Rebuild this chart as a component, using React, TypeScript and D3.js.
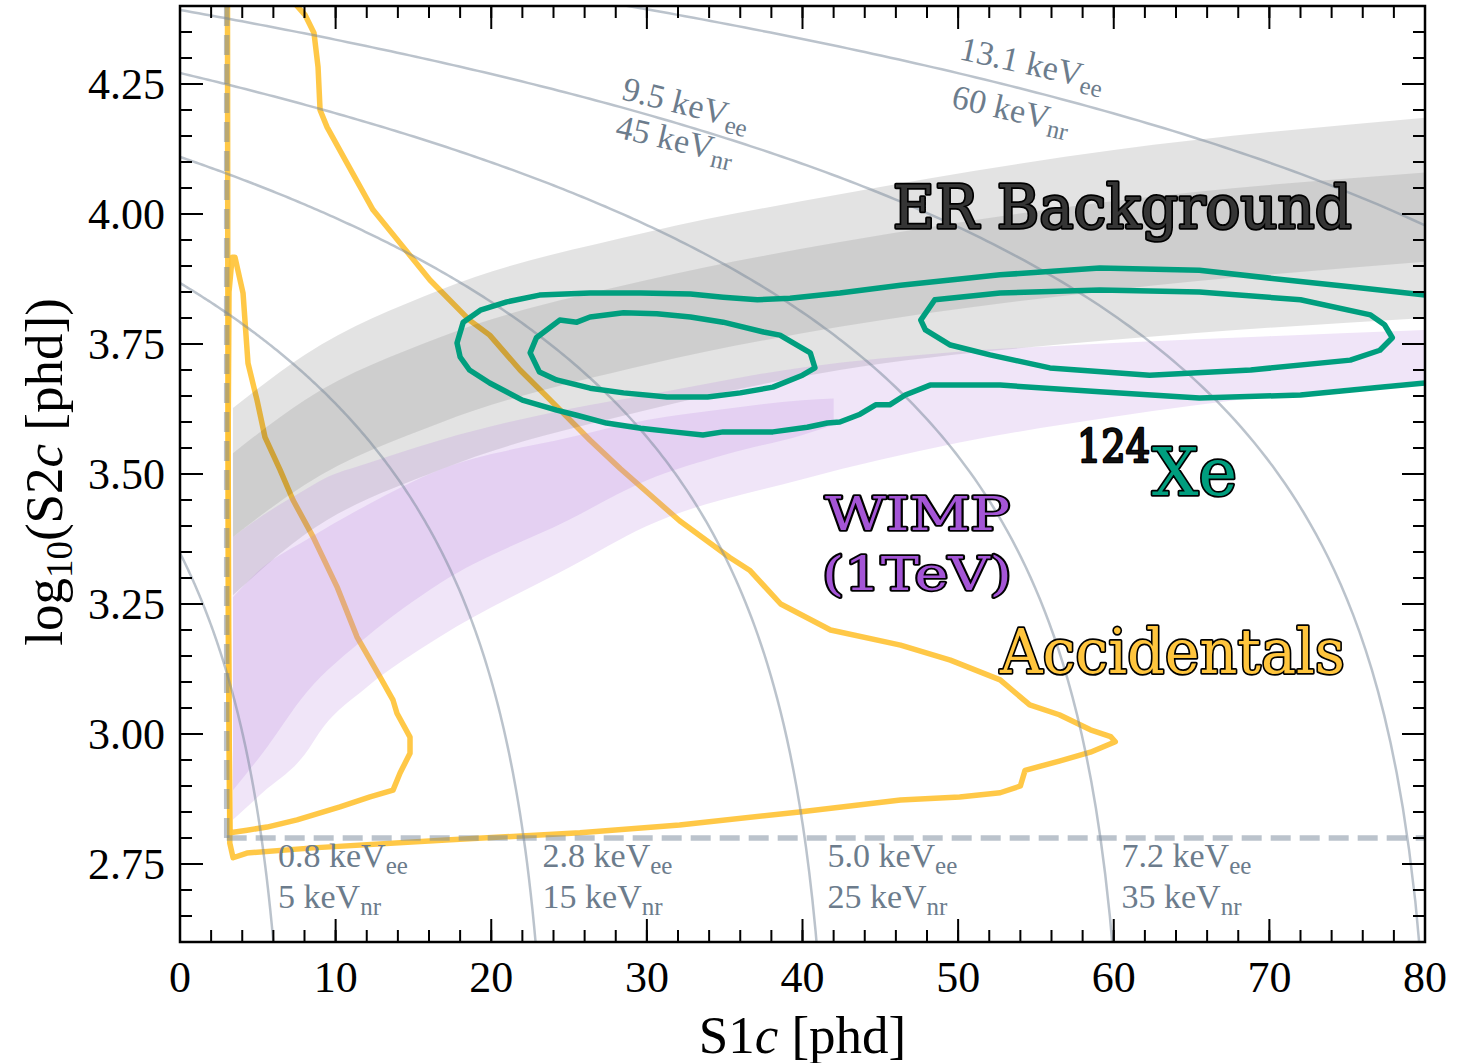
import React from "react";
import * as d3 from "d3";

// ---------- axis ticks ----------
const xTicks = [0, 10, 20, 30, 40, 50, 60, 70, 80];
const yTicks = [2.75, 3.0, 3.25, 3.5, 3.75, 4.0, 4.25];
const yTickLabels = ["2.75", "3.00", "3.25", "3.50", "3.75", "4.00", "4.25"];

// ---------- energy contours: S2 = intercept - slope*S1 ----------
const energyEE = ["0.8", "2.8", "5.0", "7.2", "9.5", "13.1"];
const energyNR = ["5", "15", "25", "35", "45", "60"];
const energyIntercept = [2228, 7367, 12874, 18670, 24687, 33906];
const energySlope = 305;
// label anchors (S1, log10 S2, rotation)
const bottomLabelS1 = [6.3, 23.3, 41.6, 60.5];
const topLabelEE = [[28.3, 4.221, 14], [50.0, 4.298, 12.5]];
const topLabelNR = [[27.9, 4.148, 13], [49.5, 4.206, 13]];

// ---------- ER band ----------
const erS1 = [3.4, 8, 16.7, 30, 42.4, 60, 80];
const erOuterTop = [3.627, 3.729, 3.854, 3.965, 4.038, 4.123, 4.185];
const erInnerTop = [3.54, 3.642, 3.763, 3.873, 3.946, 4.025, 4.08];
const erInnerBottom = [3.379, 3.479, 3.598, 3.71, 3.783, 3.854, 3.908];
const erOuterBottom = [3.267, 3.383, 3.508, 3.623, 3.7, 3.758, 3.8];

// ---------- WIMP band ----------
const wimpOuterS1 = [3.4, 5.3, 8, 9.2, 12, 16.7, 25, 30, 40, 50, 60, 70, 80];
const wimpOuterTop = [3.379, 3.42, 3.469, 3.49, 3.52, 3.565, 3.625, 3.652, 3.705, 3.735, 3.752, 3.765, 3.777];
const wimpOuterBottom = [2.835, 2.887, 2.96, 3.013, 3.09, 3.187, 3.32, 3.4, 3.49, 3.56, 3.61, 3.65, 3.68];
const wimpInnerS1 = [3.4, 5.3, 8.1, 12, 16.7, 25, 30, 35, 40, 42];
const wimpInnerTop = [3.263, 3.32, 3.373, 3.44, 3.508, 3.57, 3.604, 3.625, 3.642, 3.645];
const wimpInnerBottom = [2.892, 2.963, 3.079, 3.187, 3.29, 3.412, 3.488, 3.537, 3.575, 3.594];

// ---------- Accidentals contours ----------
const accOuter: [number, number][] = [
  [3.05, 4.45], [3.08, 3.642], [3.15, 3.065], [3.2, 2.79], [3.41, 2.762], [4.3, 2.771],
  [8.55, 2.781], [17.1, 2.796], [25.7, 2.81], [32.1, 2.825], [39.8, 2.85], [46.3, 2.873],
  [50.1, 2.879], [52.7, 2.887], [54.0, 2.9], [54.3, 2.93], [56.5, 2.948], [58.5, 2.965],
  [60.1, 2.985], [59.8, 2.995], [58.5, 3.008], [56.5, 3.037], [54.6, 3.056], [52.7, 3.104],
  [49.5, 3.142], [46.3, 3.171], [41.8, 3.2], [38.6, 3.25], [36.6, 3.315], [35.3, 3.34],
  [32.1, 3.41], [30.2, 3.46], [28.3, 3.51], [26.35, 3.565], [23.8, 3.642], [21.85, 3.7],
  [19.9, 3.767], [18.6, 3.796], [16.06, 3.873], [14.14, 3.944], [12.4, 4.008], [10.73, 4.098],
  [9.45, 4.167], [9.0, 4.2], [8.87, 4.283], [8.61, 4.348], [8.03, 4.383], [7.52, 4.4], [7.2, 4.45],
];
const accInner: [number, number][] = [
  [3.21, 2.81], [3.1, 3.2], [3.1, 3.6], [3.15, 3.85], [3.35, 3.917], [3.53, 3.917],
  [4.05, 3.848], [4.37, 3.713], [4.95, 3.642], [5.46, 3.571], [6.43, 3.508], [7.26, 3.45],
  [8.55, 3.379], [10.09, 3.283], [11.37, 3.187], [12.85, 3.11], [13.69, 3.065], [13.94, 3.04],
  [14.78, 2.994], [14.78, 2.963], [14.14, 2.925], [13.69, 2.892], [12.21, 2.879], [10.28, 2.86],
  [7.52, 2.835], [5.59, 2.821], [4.31, 2.815], [3.21, 2.81],
];

// ---------- 124Xe contours ----------
const xeOuter: [number, number][] = [
  [80.0, 3.844], [75.2, 3.86], [72.0, 3.87], [65.5, 3.892], [59.1, 3.896], [52.7, 3.883],
  [49.5, 3.873], [46.3, 3.863], [42.4, 3.848], [39.2, 3.838], [37.1, 3.835], [34.9, 3.84],
  [32.8, 3.846], [29.6, 3.848], [26.35, 3.848], [23.1, 3.844], [21.0, 3.831], [19.3, 3.815],
  [18.2, 3.792], [17.8, 3.752], [18.0, 3.725], [18.6, 3.7], [19.9, 3.675], [22.0, 3.642],
  [24.2, 3.623], [25.5, 3.613], [27.4, 3.598], [29.6, 3.588], [31.7, 3.581], [33.6, 3.575],
  [34.9, 3.581], [38.1, 3.581], [40.3, 3.59], [41.6, 3.598], [42.4, 3.6], [43.7, 3.615],
  [44.7, 3.633], [45.6, 3.633], [46.6, 3.652], [48.2, 3.671], [52.7, 3.671], [59.1, 3.658],
  [65.5, 3.646], [72.0, 3.652], [77.1, 3.667], [80.0, 3.675],
];
const xeInnerLeft: [number, number][] = [
  [22.5, 3.733], [22.9, 3.762], [24.4, 3.796], [25.5, 3.792], [26.35, 3.802], [28.5, 3.81],
  [30.65, 3.808], [32.8, 3.802], [34.9, 3.792], [37.5, 3.773], [38.55, 3.767], [39.4, 3.752],
  [40.5, 3.733], [40.8, 3.704], [40.0, 3.69], [38.1, 3.667], [36.0, 3.656], [33.9, 3.648],
  [31.3, 3.648], [28.5, 3.656], [26.35, 3.665], [24.2, 3.681], [23.1, 3.696],
];
const xeInnerRight: [number, number][] = [
  [47.6, 3.796], [48.5, 3.835], [52.7, 3.848], [59.1, 3.854], [65.5, 3.85], [72.0, 3.835],
  [76.5, 3.806], [77.4, 3.787], [77.9, 3.762], [77.1, 3.738], [75.2, 3.719], [68.8, 3.7],
  [62.3, 3.69], [55.9, 3.704], [52.05, 3.729], [49.5, 3.748], [47.9, 3.777],
];

// ---------- thresholds ----------
const s1Threshold = 3;
const s2Threshold = 2.8;

const W = 1470;
const H = 1063;
const L = 180, R = 1425, T = 6, B = 942;

const serif = "'Liberation Serif', 'Times New Roman', serif";
const labelFont = "'DejaVu Serif', serif";

export default function App() {
  const x = d3.scaleLinear().domain([0, 80]).range([L, R]);
  const y = d3.scaleLinear().domain([2.6, 4.4]).range([B, T]);

  const area = (s1: number[], lo: number[], hi: number[]) =>
    d3
      .area<number>()
      .x((_, i) => x(s1[i]))
      .y0((_, i) => y(lo[i]))
      .y1((_, i) => y(hi[i]))
      .curve(d3.curveMonotoneX)(s1) as string;

  const line = d3
    .line<[number, number]>()
    .x((d) => x(d[0]))
    .y((d) => y(d[1]));
  const closed = d3
    .line<[number, number]>()
    .x((d) => x(d[0]))
    .y((d) => y(d[1]))
    .curve(d3.curveLinearClosed);

  const energyPaths = energyIntercept.map((A) => {
    const s1max = (A - Math.pow(10, 2.55)) / energySlope;
    const pts: [number, number][] = d3.range(0, 201).map((i) => {
      const s = (s1max * i) / 200;
      return [s, Math.log10(A - energySlope * s)];
    });
    return line(pts) as string;
  });

  const xMinor = d3.range(0, 80.001, 2);
  const yMinor = d3.range(2.6, 4.4001, 0.05);

  const slate = "#6c7c8c";
  const outline = { paintOrder: "stroke" as const };
  const lfs = 34;
  const sfs = 25;

  return (
    <svg
      width={W}
      height={H}
      style={{ position: "absolute", left: 0, top: 0, background: "#fff" }}
    >
      <defs>
        <clipPath id="plotClip">
          <rect x={L} y={T} width={R - L} height={B - T} />
        </clipPath>
      </defs>
      <rect x={0} y={0} width={W} height={H} fill="#fff" />

      <g clipPath="url(#plotClip)">
        {/* Accidentals */}
        <path d={line(accOuter) as string} fill="none" stroke="#ffc233" strokeOpacity={0.9} strokeWidth={5.5} strokeLinejoin="round" />
        <path d={closed(accInner) as string} fill="none" stroke="#ffc233" strokeOpacity={0.9} strokeWidth={5.5} strokeLinejoin="round" />

        {/* ER band */}
        <path d={area(erS1, erOuterBottom, erOuterTop)} fill="#000" fillOpacity={0.11} />
        <path d={area(erS1, erInnerBottom, erInnerTop)} fill="#000" fillOpacity={0.09} />

        {/* WIMP band */}
        <path d={area(wimpOuterS1, wimpOuterBottom, wimpOuterTop)} fill="#b57edc" fillOpacity={0.2} />
        <path d={area(wimpInnerS1, wimpInnerBottom, wimpInnerTop)} fill="#b57edc" fillOpacity={0.2} />

        {/* energy contours */}
        {energyPaths.map((d, i) => (
          <path key={i} d={d} fill="none" stroke="#778899" strokeOpacity={0.5} strokeWidth={2.5} />
        ))}

        {/* thresholds */}
        <line x1={x(s1Threshold)} x2={x(s1Threshold)} y1={y(s2Threshold)} y2={y(4.4)} stroke="#778899" strokeOpacity={0.5} strokeWidth={5.5} strokeDasharray="20,9" />
        <line x1={x(s1Threshold)} x2={x(80)} y1={y(s2Threshold)} y2={y(s2Threshold)} stroke="#778899" strokeOpacity={0.5} strokeWidth={5.5} strokeDasharray="20,9" />

        {/* 124Xe */}
        <path d={line(xeOuter) as string} fill="none" stroke="#009e7e" strokeWidth={5.5} strokeLinejoin="round" />
        <path d={closed(xeInnerLeft) as string} fill="none" stroke="#009e7e" strokeWidth={5.5} strokeLinejoin="round" />
        <path d={closed(xeInnerRight) as string} fill="none" stroke="#009e7e" strokeWidth={5.5} strokeLinejoin="round" />
      </g>

      {/* energy labels bottom */}
      {bottomLabelS1.map((s, i) => (
        <g key={i} fontFamily={serif} fill={slate} fontSize={lfs}>
          <text x={x(s)} y={y(2.744)}>
            {energyEE[i]} keV<tspan fontSize={sfs} dy={7}>ee</tspan>
          </text>
          <text x={x(s)} y={y(2.665)}>
            {energyNR[i]} keV<tspan fontSize={sfs} dy={7}>nr</tspan>
          </text>
        </g>
      ))}
      {topLabelEE.map((p, j) => {
        const i = 4 + j;
        const q = topLabelNR[j];
        return (
          <g key={"t" + j} fontFamily={serif} fill={slate} fontSize={lfs}>
            <text x={x(p[0])} y={y(p[1])} transform={`rotate(${p[2]}, ${x(p[0])}, ${y(p[1])})`}>
              {energyEE[i]} keV<tspan fontSize={sfs} dy={7}>ee</tspan>
            </text>
            <text x={x(q[0])} y={y(q[1])} transform={`rotate(${q[2]}, ${x(q[0])}, ${y(q[1])})`}>
              {energyNR[i]} keV<tspan fontSize={sfs} dy={7}>nr</tspan>
            </text>
          </g>
        );
      })}

      {/* category labels */}
      <text x={x(45.8)} y={y(3.973)} fontFamily={labelFont} fontSize={60} fill="#353535" stroke="#000" strokeWidth={3.5} strokeLinejoin="round" style={outline} textLength={459} lengthAdjust="spacingAndGlyphs">
        ER Background
      </text>
      <text x={x(41.45)} y={y(3.392)} fontFamily={labelFont} fontSize={46} fill="#a455d6" stroke="#000" strokeWidth={3.5} strokeLinejoin="round" style={outline} textLength={185} lengthAdjust="spacingAndGlyphs">
        WIMP
      </text>
      <text x={x(41.25)} y={y(3.277)} fontFamily={labelFont} fontSize={46} fill="#a455d6" stroke="#000" strokeWidth={3.5} strokeLinejoin="round" style={outline} textLength={190} lengthAdjust="spacingAndGlyphs">
        (1TeV)
      </text>
      <text x={x(57.64)} y={y(3.523)} fontFamily={labelFont} fontSize={44} fill="#111" stroke="#000" strokeWidth={2.5} strokeLinejoin="round" style={outline} textLength={73} lengthAdjust="spacingAndGlyphs">
        124
      </text>
      <text x={x(62.46)} y={y(3.46)} fontFamily={labelFont} fontSize={66} fill="#009e7e" stroke="#000" strokeWidth={3.5} strokeLinejoin="round" style={outline} textLength={85} lengthAdjust="spacingAndGlyphs">
        Xe
      </text>
      <text x={x(52.69)} y={y(3.117)} fontFamily={labelFont} fontSize={62} fill="#ffc53d" stroke="#000" strokeWidth={3.5} strokeLinejoin="round" style={outline} textLength={345} lengthAdjust="spacingAndGlyphs">
        Accidentals
      </text>

      {/* ticks */}
      <g stroke="#000" strokeWidth={2}>
        {xMinor.map((v, i) => (
          <g key={"xm" + i}>
            <line x1={x(v)} x2={x(v)} y1={B} y2={B - 12} />
            <line x1={x(v)} x2={x(v)} y1={T} y2={T + 12} />
          </g>
        ))}
        {xTicks.map((v, i) => (
          <g key={"xM" + i}>
            <line x1={x(v)} x2={x(v)} y1={B} y2={B - 23} />
            <line x1={x(v)} x2={x(v)} y1={T} y2={T + 23} />
          </g>
        ))}
        {yMinor.map((v, i) => (
          <g key={"ym" + i}>
            <line x1={L} x2={L + 12} y1={y(v)} y2={y(v)} />
            <line x1={R} x2={R - 12} y1={y(v)} y2={y(v)} />
          </g>
        ))}
        {yTicks.map((v, i) => (
          <g key={"yM" + i}>
            <line x1={L} x2={L + 23} y1={y(v)} y2={y(v)} />
            <line x1={R} x2={R - 23} y1={y(v)} y2={y(v)} />
          </g>
        ))}
      </g>
      <rect x={L} y={T} width={R - L} height={B - T} fill="none" stroke="#000" strokeWidth={2.5} />

      {/* tick labels */}
      <g fontFamily={serif} fontSize={44} fill="#000">
        {xTicks.map((v, i) => (
          <text key={"xl" + i} x={x(v)} y={992} textAnchor="middle">
            {v}
          </text>
        ))}
        {yTicks.map((v, i) => (
          <text key={"yl" + i} x={165} y={y(v) + 15} textAnchor="end">
            {yTickLabels[i]}
          </text>
        ))}
      </g>

      {/* axis titles */}
      <text x={(L + R) / 2} y={1053} textAnchor="middle" fontFamily={serif} fontSize={53} fill="#000">
        S1<tspan fontStyle="italic">c</tspan> [phd]
      </text>
      <text transform={`translate(62, ${(T + B) / 2 - 2}) rotate(-90)`} textAnchor="middle" fontFamily={serif} fontSize={53} fill="#000">
        log<tspan fontSize={37} dy={10}>10</tspan>
        <tspan dy={-10}>(S2</tspan>
        <tspan fontStyle="italic">c</tspan> [phd])
      </text>
    </svg>
  );
}
